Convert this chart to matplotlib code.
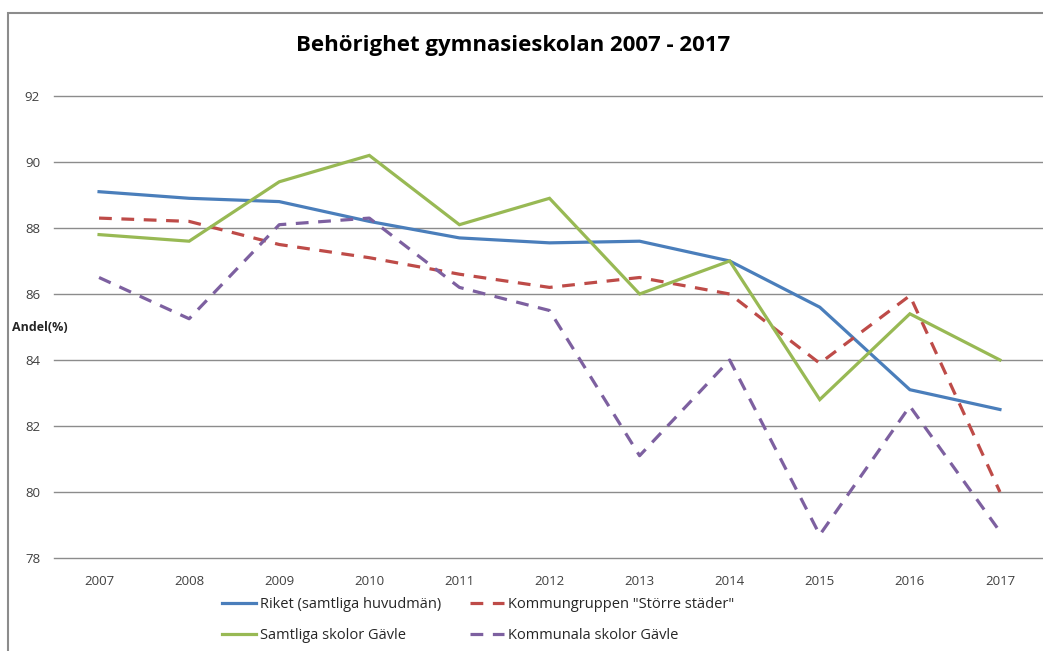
import matplotlib.pyplot as plt
from matplotlib.patches import Rectangle
from matplotlib.lines import Line2D

plt.rcParams['font.family'] = ['Open Sans', 'DejaVu Sans']

years = ['2007', '2008', '2009', '2010', '2011', '2012', '2013', '2014', '2015', '2016', '2017']
riket = [89.1, 88.9, 88.8, 88.2, 87.7, 87.55, 87.6, 87.0, 85.6, 83.1, 82.5]
storre_stader = [88.3, 88.2, 87.5, 87.1, 86.6, 86.2, 86.5, 86.0, 83.9, 85.95, 80.0]
samtliga_gavle = [87.8, 87.6, 89.4, 90.2, 88.1, 88.9, 86.0, 87.0, 82.8, 85.4, 84.0]
kommunala_gavle = [86.5, 85.25, 88.1, 88.3, 86.2, 85.5, 81.1, 84.0, 78.7, 82.6, 78.8]

labels = ['Riket (samtliga huvudmän)', 'Kommungruppen "Större städer"',
          'Samtliga skolor Gävle', 'Kommunala skolor Gävle']
yticks = [78, 80, 82, 84, 86, 88, 90, 92]

fig = plt.figure(figsize=(10.43, 6.51), dpi=100)
ax = fig.add_axes([54 / 1043, 1 - 558 / 651, 991 / 1043, 462 / 651])

x = range(len(years))
lw = 2.3
ax.plot(x, riket, color='#4A7EBB', lw=lw, solid_joinstyle='miter')
ax.plot(x, storre_stader, color='#BE4B48', lw=lw, dashes=(4, 3))
ax.plot(x, samtliga_gavle, color='#98B954', lw=lw, solid_joinstyle='miter')
ax.plot(x, kommunala_gavle, color='#7D60A0', lw=lw, dashes=(4, 3))

ax.set_xlim(-0.5, len(years) - 0.5)
ax.set_ylim(78, 92)
ax.set_yticks(yticks)
ax.set_xticks(list(x))
ax.set_xticklabels(years)
ax.tick_params(length=0, labelsize=9.5, colors='#404040')
ax.tick_params(axis='y', pad=10)
ax.tick_params(axis='x', pad=12)
ax.yaxis.grid(True, color='#8C8C8C', lw=1, clip_on=False)
ax.set_axisbelow(True)
for s in ax.spines.values():
    s.set_visible(False)

fig.text(12 / 1043, 1 - 327 / 651, 'Andel(%)', fontsize=9, fontweight='bold',
         color='#262626', va='center', ha='left')
fig.text(513 / 1043, 1 - 45 / 651, 'Behörighet gymnasieskolan 2007 - 2017',
         fontsize=16, fontweight='bold', ha='center', va='center')

# chart frame
fig.patches.append(Rectangle((8 / 1043, -0.1), 1.2, 1 - 13 / 651 + 0.1,
                             transform=fig.transFigure, fill=False,
                             edgecolor='#8C8C8C', lw=1.5))

handles = [Line2D([], [], color='#4A7EBB', lw=lw),
           Line2D([], [], color='#BE4B48', lw=lw, dashes=(4, 3)),
           Line2D([], [], color='#98B954', lw=lw),
           Line2D([], [], color='#7D60A0', lw=lw, dashes=(4, 3))]
order = [0, 2, 1, 3]
fig.legend([handles[i] for i in order], [labels[i] for i in order], ncol=2,
           loc='upper left', bbox_to_anchor=(209 / 1043, 1 - 584 / 651),
           frameon=False, fontsize=10.5, handlelength=2.3, handletextpad=0.3,
           columnspacing=2.0, labelspacing=1.1, labelcolor='#262626')

fig.savefig('out.png', dpi=100)
